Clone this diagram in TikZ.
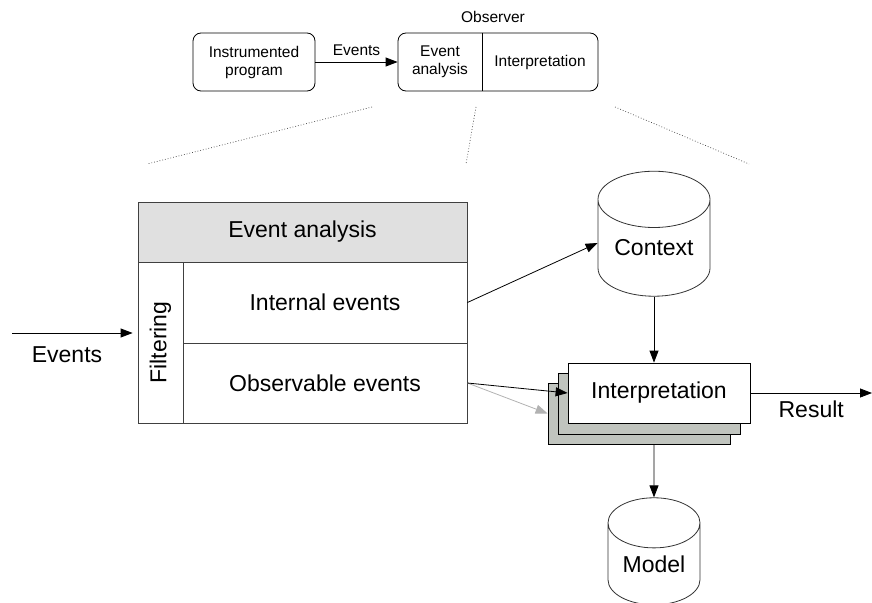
\documentclass[tikz,border=0pt]{standalone}
\usepackage{fontspec}
\setmainfont{Liberation Sans}
\usetikzlibrary{arrows.meta,shapes.geometric}

\definecolor{sheetgray}{RGB}{192,196,190}
\tikzset{
  bigtxt/.style={font=\fontsize{23}{27}\selectfont},
  smalltxt/.style={font=\fontsize{15.5}{18}\selectfont},
  cell/.style={draw=black!75, inner sep=0pt, bigtxt},
  store/.style={cylinder, shape border rotate=90, draw=black!80, fill=white, inner sep=0pt, bigtxt},
  sheet/.style={draw=black, fill=sheetgray, minimum width=182pt, minimum height=61pt},
  dotline/.style={black!70, line width=0.7pt, dash pattern=on 0.8pt off 2pt}
}

\begin{document}
\begin{tikzpicture}[x=1pt, y=-1pt, line width=0.8pt, >={Triangle[length=12pt,width=9pt]}]
  \useasboundingbox (0,0) rectangle (872,602);

  % overview
  \node[draw, rounded corners=8pt, minimum width=122pt, minimum height=58pt, align=center, smalltxt] (prog) at (254,62) {Instrumented\\program};
  \node[draw, rounded corners=8pt, minimum width=200pt, minimum height=58pt] (obs) at (498,62) {};
  \node[minimum width=84pt, minimum height=58pt, align=center, smalltxt] (obsea) at (440,62) {Event\\analysis};
  \node[smalltxt] (obsint) at (540,62) {Interpretation};
  \node[smalltxt] (obslbl) at (493,17) {Observer};
  \draw (obsea.north east) -- (obsea.south east);
  \path [->] (prog) edge node[above=3pt, smalltxt] {Events} (obs);

  % zoom lines
  \draw[dotline] (372,107) -- (147,164);
  \draw[dotline] (476,107) -- (466,164);
  \draw[dotline] (615,107) -- (749,164);

  % event analysis
  \node[cell, fill=black!12, minimum width=329pt, minimum height=60pt] (ea) at (302.5,232) {Event analysis};
  \node[cell, minimum width=161pt, minimum height=45pt, rotate=90] (filt) at (160.5,342.5) {Filtering};
  \node[cell, minimum width=284pt, minimum height=81pt] (ie) at (325,302.5) {Internal events};
  \node[cell, minimum width=284pt, minimum height=80pt] (oe) at (325,383) {Observable events};

  \coordinate (evin) at (12,333);
  \path [->] (evin) edge ([xshift=-5pt]evin -| ea.west);
  \node[bigtxt] (evlbl) at (67,355) {Events};

  % interpretation
  \node[store, minimum width=112pt, minimum height=125pt, aspect=0.71] (ctx) at (654,248) {Context};
  \node[sheet] (back2) at (639,413.5) {};
  \node[sheet] (back1) at (649,403.5) {};
  \node[sheet, fill=white, minimum height=60pt, bigtxt] (interp) at (659,393) {Interpretation};
  \node[store, minimum width=92pt, minimum height=107pt, aspect=0.8] (model) at (654,564) {Model};

  \path [->] (ie.east) edge ([yshift=5pt]ctx.west);
  \path [->] (oe.east) edge[draw=black!30] (back2.west);
  \path [->] (oe.east) edge (interp.west);
  \path [->] (ctx.south) edge (ctx.south |- interp.north);
  \path [->] (ctx.south |- back2.south) edge (model.north);
  \coordinate (res) at (872,393);
  \path [->] (interp.east) edge node[below=4pt, bigtxt] {Result} (res);
\end{tikzpicture}
\end{document}
